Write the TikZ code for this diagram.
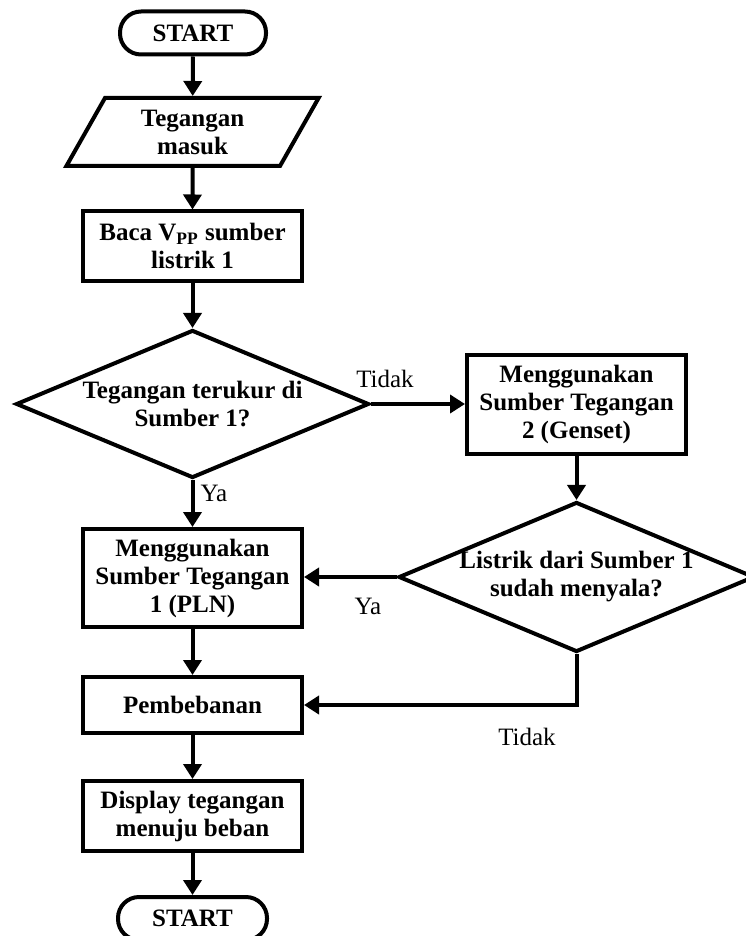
\documentclass[tikz,border=0pt]{standalone}
\usepackage{fontspec}
\setmainfont{Liberation Serif}
\usetikzlibrary{arrows.meta,shapes.geometric}

\begin{document}
\begin{tikzpicture}[x=0.5pt,y=-0.5pt,
  line width=2pt,
  every node/.style={font=\fontsize{12.5}{14}\selectfont},
  terminal/.style={draw,rounded corners=10.5pt,minimum width=73pt,minimum height=21.5pt,font=\fontsize{12.5}{14}\selectfont\bfseries},
  io/.style={draw,trapezium,trapezium left angle=63,trapezium right angle=117,trapezium stretches=true,minimum width=126.5pt,minimum height=34pt,inner sep=0pt,align=center,font=\fontsize{12.5}{14}\selectfont\bfseries},
  process/.style={draw,minimum width=109.5pt,inner sep=0pt,align=center,font=\fontsize{12.5}{14}\selectfont\bfseries},
  decision/.style={draw,diamond,aspect=2.4,inner sep=0pt,align=center,font=\fontsize{12.5}{14}\selectfont\bfseries},
  arrow/.style={-{Triangle[length=7.5pt,width=9pt]}}]
\useasboundingbox (0,0) rectangle (745,936);

\node[terminal] (start) at (193,33) {START};
\node[io] (input) at (192.5,132) {Tegangan\\masuk};
\node[process,minimum height=34.5pt] (baca) at (192.5,246) {Baca V\textsubscript{PP} sumber\\listrik 1};
\node[decision,minimum width=176.5pt,minimum height=74pt] (cek1) at (192.5,404) {Tegangan terukur di\\Sumber 1?};
\node[process,minimum height=49.5pt] (genset) at (576.5,404) {Menggunakan\\Sumber Tegangan\\2 (Genset)};
\node[decision,minimum width=176pt,minimum height=75pt] (cek2) at (576.5,577) {Listrik dari Sumber 1\\sudah menyala?};
\node[process,minimum height=49pt] (pln) at (192.5,578) {Menggunakan\\Sumber Tegangan\\1 (PLN)};
\node[process,minimum height=28pt] (beban) at (192.5,705) {Pembebanan};
\node[process,minimum height=35pt] (display) at (192.5,816) {Display tegangan\\menuju beban};
\node[terminal,minimum width=74.5pt] (stop) at (192.5,918.5) {START};

\draw[arrow] (start) -- (input);
\draw[arrow] (input) -- (baca);
\draw[arrow] (baca) -- (cek1);
\draw[arrow] (cek1.east) -- (genset.west);
\draw[arrow] (cek1.south) -- (pln.north);
\draw[arrow] (genset) -- (cek2);
\draw[arrow] (cek2.west) -- (cek2.west -| pln.east);
\draw[arrow] (pln) -- (beban);
\draw[arrow] (cek2.south) |- (beban.east);
\draw[arrow] (beban) -- (display);
\draw[arrow] (display) -- (stop);

\node (tidak1) at (385,379) {Tidak};
\node (ya1) at (214,493) {Ya};
\node (ya2) at (368,606) {Ya};
\node (tidak2) at (527,737) {Tidak};
\end{tikzpicture}
\end{document}
